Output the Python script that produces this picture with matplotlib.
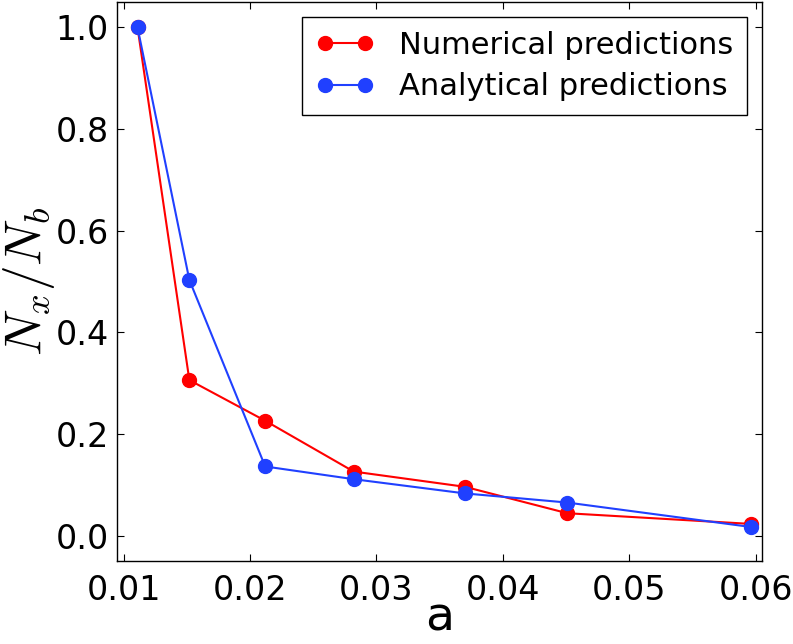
import matplotlib
matplotlib.use("Agg")
import matplotlib.pyplot as plt

a_vals = [0.0111, 0.0152, 0.0212, 0.0282, 0.0370, 0.0451, 0.0596]
numerical = [1.0, 0.306, 0.226, 0.126, 0.096, 0.044, 0.023]
analytical = [1.0, 0.503, 0.136, 0.111, 0.083, 0.065, 0.017]
xticks = [0.01, 0.02, 0.03, 0.04, 0.05, 0.06]
yticks = [0.0, 0.2, 0.4, 0.6, 0.8, 1.0]

plt.rcParams['font.family'] = ['DejaVu Sans']
plt.rcParams['mathtext.fontset'] = 'cm'

fig = plt.figure(figsize=(7.93, 6.44), dpi=100)
ax = fig.add_axes([117.3/793, 1 - 561/644, (762-117.3)/793, (561-2)/644])

ax.plot(a_vals, numerical, '-o', color='#ff0000', lw=1.5, ms=10, mec='#ff0000',
        label='Numerical predictions')
ax.plot(a_vals, analytical, '-o', color='#2040ff', lw=1.5, ms=10, mec='#2040ff',
        label='Analytical predictions')

ax.set_xlim(0.0095, 0.0605)
ax.set_ylim(-0.05, 1.05)
ax.set_xticks(xticks)
ax.set_xticklabels([f"{t:.2f}" for t in xticks])
ax.set_yticks(yticks)
ax.set_yticklabels([f"{t:.1f}" for t in yticks])
ax.tick_params(direction='in', top=True, right=True, labelsize=24, length=5)
ax.tick_params(axis='x', pad=9)
ax.tick_params(axis='y', pad=6)
for s in ax.spines.values():
    s.set_linewidth(1.0)

ax.set_xlabel('a', fontsize=34, labelpad=-8)
ax.set_ylabel(r'$N_x/N_b$', fontsize=37)
ax.yaxis.set_label_coords(-0.094, 0.5)

leg = ax.legend(loc='upper right', fontsize=22, fancybox=False, framealpha=1,
                edgecolor='black', numpoints=2, handlelength=1.9,
                handletextpad=0.8, borderpad=0.45, borderaxespad=0.5,
                labelspacing=0.4)
leg.get_frame().set_linewidth(1.0)

fig.savefig('out.png', dpi=100)
